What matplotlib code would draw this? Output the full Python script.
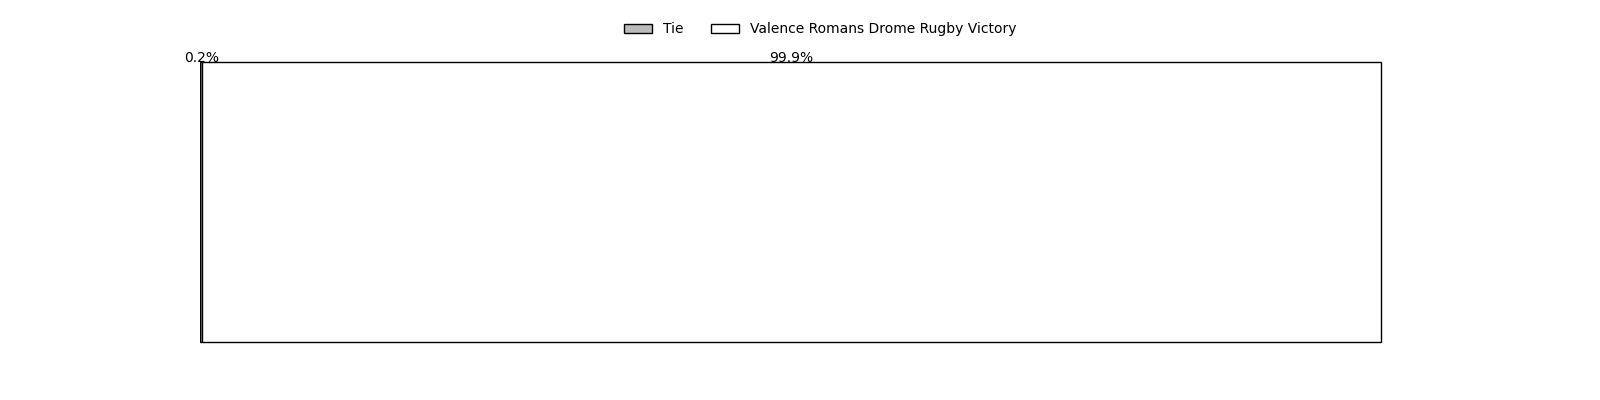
import numpy as np
import matplotlib.pyplot as plt

labels = ['Tie', 'Valence Romans Drome Rugby Victory']
values = [0.2, 99.9]
colors = ['#bbbbbb', 'white']

fig, ax = plt.subplots(figsize=(16, 4), dpi=100)
left = 0
for lab, val, col in zip(labels, values, colors):
    ax.barh(0, val, left=left, color=col, edgecolor='black', linewidth=1, label=lab)
    ax.text(left + val / 2, 0.4, f'{val}%', ha='center', va='baseline', fontsize=10)
    left += val

ax.axis('off')
ax.legend(loc='lower center', bbox_to_anchor=(0.5, 0.997), ncol=2, frameon=False)
plt.savefig('out.png')
